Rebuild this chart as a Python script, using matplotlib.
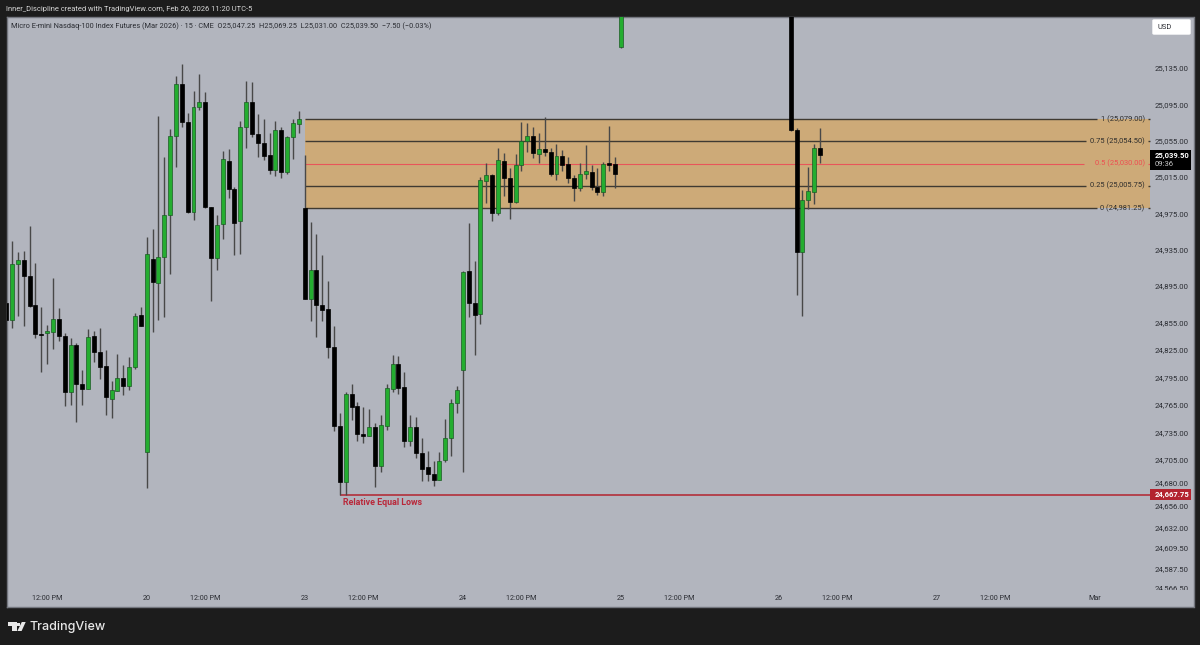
#!/usr/bin/python
import matplotlib
matplotlib.use("Agg")
import matplotlib.pyplot as plt
from matplotlib.patches import Rectangle, Polygon, FancyBboxPatch
from matplotlib.ticker import NullLocator, NullFormatter
from matplotlib.transforms import Bbox

plt.rcParams["font.family"] = ["Roboto", "DejaVu Sans"]

# bars of the 15 min chart that show on screen, the rest of the week is blank
bar_index = list(range(106)) + [134, 135, 136, 137, 138, 139]

opens = [
    24877, 24858.5, 24920, 24924.25, 24906.75, 24874.25, 24843, 24844.25, 24845, 24860,
    24841, 24780, 24831, 24788.25, 24783.5, 24841.25, 24823.75, 24808.5, 24772.5, 24781,
    24795.5, 24786.75, 24807.25, 24863.5, 24714.25, 24925.75, 24899, 24927.5, 24974, 25060.75,
    25117.75, 25076.5, 24977.25, 25092.5, 25098, 24982, 24926.5, 24963.25, 25033.5, 25002.5,
    24966.5, 25070.25, 25098, 25062.5, 25053, 25039.25, 25023, 25067, 25021.25, 25059,
    25074, 24981.25, 24881, 24912.75, 24874.25, 24870.5, 24829, 24742.5, 24681.25, 24777.5,
    24764.5, 24734, 24732, 24741.5, 24699.5, 24743, 24783.5, 24809.75, 24785, 24726.25,
    24741.5, 24713.75, 24697.5, 24690.5, 24683.5, 24705.75, 24729.5, 24767.5, 24804, 24911.5,
    24877, 24864.5, 25011, 25017.75, 24975.75, 25033, 25014.75, 24987.75, 25028.75, 25055,
    25060.5, 25041, 25046, 25043.25, 25019, 25039, 25029.75, 25014.5, 25002.75, 25019,
    25021.25, 25004.5, 24999, 25030.5, 25030, 25159,
    25220, 25067, 24933, 24989.5, 24999, 25047.25,
]
highs = [
    24877, 24945, 24933, 24934.5, 24961.75, 24921, 24872.75, 24852.5, 24904.5, 24871,
    24844.25, 24838.75, 24833.25, 24804, 24848.5, 24846.75, 24849.75, 24826, 24792.25, 24820.75,
    24809.5, 24817.5, 24866.25, 24872.25, 24949, 24958.5, 25082.5, 25037.75, 25067.75, 25127.25,
    25139.75, 25086, 25109.75, 25129.5, 25109.5, 24982.25, 24974, 25044, 25046.25, 25004.25,
    25077.25, 25121.75, 25120, 25084.5, 25078.75, 25063.5, 25077.25, 25070, 25060.5, 25078.75,
    25088.25, 25039.5, 24966, 24952.75, 24930, 24900.75, 24852.25, 24756.5, 24780.25, 24788.75,
    24769.25, 24763, 24761.25, 24745.5, 24754.75, 24788, 24820.5, 24819.5, 24801, 24754.75,
    24752.25, 24729.25, 24715.5, 24704.5, 24714.5, 24750.5, 24772, 24786.5, 24912.5, 24964.75,
    24923.5, 25015.5, 25031.25, 25018.75, 25047.5, 25041.5, 25025.5, 25040.5, 25075.5, 25074.5,
    25070, 25064, 25081, 25047, 25051.75, 25045, 25037.75, 25017, 25030.5, 25050.5,
    25028.75, 25025.75, 25032, 25071.75, 25037.75, 25215,
    25220, 25069, 25000.5, 25026.75, 25051.5, 25069.25,
]
lows = [
    24858.75, 24849.25, 24862.5, 24852.25, 24873, 24838.25, 24801.5, 24810.25, 24827, 24835.75,
    24764.5, 24765.75, 24747.5, 24765.75, 24783, 24813, 24794.25, 24754.75, 24751, 24781,
    24776.5, 24782, 24804.5, 24852, 24675.75, 24845.25, 24858.5, 24861.25, 24909, 25026.25,
    25070.5, 24975.75, 24967.5, 25089.75, 24981.5, 24879.5, 24912.75, 24947.25, 24991.75, 24929.75,
    24930.5, 25047.5, 25059, 25037, 25034.25, 25018.5, 25016, 25014.5, 25018.5, 25035.5,
    25064, 24881.5, 24857.75, 24839.5, 24857.75, 24816.75, 24737.5, 24667.75, 24667.75, 24749.25,
    24726.5, 24723.75, 24732, 24676, 24692.5, 24738.25, 24779.5, 24777, 24719.25, 24720.75,
    24708, 24682.75, 24683, 24677.25, 24683.5, 24703.5, 24709.75, 24757.25, 24692.5, 24861.25,
    24819.75, 24854.5, 24986.75, 24967.25, 24974, 24994.75, 24969.5, 24986.75, 25022, 25043.25,
    25036.75, 25031.25, 25038.5, 25016, 25012.25, 25022, 25008.5, 24988.5, 25000.25, 25013.25,
    25000.5, 24995.75, 24994.75, 25022, 25003.75, 25158,
    25066, 24885.5, 24862.5, 24980, 24986, 25031,
]
closes = [
    24858.75, 24920, 24924.25, 24906.25, 24873.5, 24843, 24841.5, 24846, 24860, 24840.5,
    24780, 24831.5, 24788, 24783.5, 24840.25, 24823.75, 24807.5, 24773.75, 24781.75, 24795,
    24786.75, 24807.5, 24863, 24852, 24930.5, 24899.75, 24927.5, 24973, 25060.75, 25118.5,
    25075.75, 24977.25, 25092.5, 25097.75, 24982.5, 24926.5, 24963, 25035, 25002.5, 24965,
    25070, 25098, 25063, 25052.5, 25039, 25022.5, 25066.75, 25021.25, 25059, 25074.5,
    25078.75, 24881.5, 24913.25, 24874.5, 24869.75, 24828.5, 24743, 24681.25, 24777.5, 24763.75,
    24734.25, 24732, 24742, 24699.5, 24743.5, 24784, 24809.75, 24784.5, 24726.5, 24741.25,
    24713, 24696.25, 24690, 24683.5, 24705, 24729.75, 24767.5, 24781.75, 24911, 24876.75,
    24864.25, 25012.25, 25017.5, 24975.75, 25033.75, 25014.5, 24987.75, 25028.75, 25055.25, 25060,
    25041.5, 25046, 25043, 25018.75, 25038.25, 25029, 25014.5, 25002.75, 25018.5, 25021.75,
    25004.25, 24999, 25030, 25029, 25019, 25215,
    25067, 24933, 24989.5, 25000, 25047, 25039.5,
]

price_ticks = [25135, 25095, 25055, 25015, 24975, 24935, 24895, 24855, 24825, 24795, 24765,
               24735, 24705, 24680, 24656, 24632, 24609.5, 24587.5, 24566.5]

time_ticks = [7, 24, 34, 51, 61, 78, 88, 105, 115, 132, 142, 159, 169, 186]
time_labels = ["12:00 PM", "20", "12:00 PM", "23", "12:00 PM", "24", "12:00 PM", "25",
               "12:00 PM", "26", "12:00 PM", "27", "12:00 PM", "Mar"]

fib_ratios = ["1", "0.75", "0.5", "0.25", "0"]
fib_prices = [25079.00, 25054.50, 25030.00, 25005.75, 24981.25]
fib_start = 51
fib_end = 195.3

equal_low = 24667.75
equal_low_start = 57
last_price = 25039.50

BG = "#b2b5be"
DARK = "#1c1c1c"
GREEN = "#24ad30"
ORANGE = "#cdaa78"
RED = "#b3232f"
TEXT = "#2a2c32"

W, H = 1200, 645
fig = plt.figure(figsize=(12, 6.45), dpi=100, facecolor=DARK)
left, right, top, bottom = 6.5, 1193.5, 16.5, 607
ax = fig.add_axes([left / W, 1 - bottom / H, (right - left) / W, (bottom - top) / H], facecolor=BG)
ax.set_yscale("log")
ax.set_xlim(0.06, 202.8)
ax.set_ylim(24546.3, 25192.7)
ax.set_xticks([])
ax.yaxis.set_major_locator(NullLocator())
ax.yaxis.set_minor_locator(NullLocator())
ax.yaxis.set_major_formatter(NullFormatter())
ax.yaxis.set_minor_formatter(NullFormatter())
for s in ax.spines.values():
    s.set_color("#74777f")
    s.set_linewidth(1)


def ax_x(px):
    return (px - left) / (right - left)


def bar_x(px):
    return (px - 6.146) / 5.854


price_tf = ax.get_yaxis_transform()
time_tf = ax.get_xaxis_transform()

# fib box, behind the candles
ax.add_patch(Rectangle((fib_start, fib_prices[-1]), fib_end - fib_start, fib_prices[0] - fib_prices[-1],
                       facecolor=ORANGE, edgecolor="none", zorder=1))
line_stops = [1097, 1086, 1084, 1086, 1097]
for ratio, price, stop in zip(fib_ratios, fib_prices, line_stops):
    col = "#e8555a" if ratio == "0.5" else "#3f3a32"
    lw = 0.8 if ratio == "0.5" else 1.0
    ax.hlines(price, fib_start, bar_x(stop), color=col, linewidth=lw, zorder=1.5)
    ax.hlines(price, bar_x(1147.5), fib_end, color=col, linewidth=lw, zorder=1.5)
    ax.text(bar_x(1144.5), price, "%s (%s)" % (ratio, format(price, ",.2f")), ha="right", va="center",
            fontsize=5.4, color="#ee4c50" if ratio == "0.5" else "#2b2b2b", zorder=2)

# relative equal lows
ax.hlines(equal_low, equal_low_start, fib_end, color=RED, linewidth=1.1, zorder=1.5)
ax.text(57.5, equal_low - 8, "Relative Equal Lows", color="#b9283a", fontsize=6.4, fontweight="bold",
        ha="left", va="center", zorder=4)

# candles
for i, o, h, l, c in zip(bar_index, opens, highs, lows, closes):
    up = c >= o
    ax.vlines(i, l, h, color="#484848", linewidth=1.0, zorder=2.5)
    ax.bar(i, abs(c - o), bottom=min(o, c), width=0.68, color=GREEN if up else "black",
           edgecolor="#1c5a25" if up else "black", linewidth=0.5, zorder=3)

# price scale
clip = Bbox([[0, H - 590], [W, H]])
for p in price_ticks:
    t = ax.text(ax_x(1155), p, format(p, ",.2f"), transform=price_tf, ha="left", va="center",
                fontsize=5.6, color=TEXT, zorder=5)
    t.set_clip_box(clip)
    t.set_clip_on(True)

# time scale
for i, lab in zip(time_ticks, time_labels):
    ax.text(i, 0.0152, lab, transform=time_tf, ha="center", va="center", fontsize=5.2, color=TEXT, zorder=5)

# price tags
ax.add_patch(Rectangle((ax_x(1150), equal_low - 6), ax_x(1191) - ax_x(1150), 12, transform=price_tf,
                       facecolor=RED, edgecolor="none", zorder=6))
ax.text(ax_x(1155), equal_low, format(equal_low, ",.2f"), transform=price_tf, ha="left", va="center",
        fontsize=5.5, color="white", fontweight="bold", zorder=7)
ax.add_patch(Rectangle((ax_x(1150), last_price - 16), ax_x(1191) - ax_x(1150), 22, transform=price_tf,
                       facecolor="black", edgecolor="none", zorder=6))
ax.text(ax_x(1155), last_price, format(last_price, ",.2f"), transform=price_tf, ha="left", va="center",
        fontsize=5.5, color="white", fontweight="bold", zorder=7)
ax.text(ax_x(1155), last_price - 10, "09:36", transform=price_tf, ha="left", va="center",
        fontsize=5.5, color="#c8c8c8", zorder=7)

# currency button
fig.add_artist(FancyBboxPatch((1153 / W, 1 - 34 / H), 37 / W, 14 / H, boxstyle="round,pad=0,rounding_size=0.001",
                              transform=fig.transFigure, facecolor="white", edgecolor="white", linewidth=1))
fig.text(1157 / W, 1 - 27.5 / H, "USD", fontsize=5.4, color=TEXT, va="center", ha="left")

# header lines
fig.text(6 / W, 1 - 9 / H, "Inner_Discipline created with TradingView.com, Feb 26, 2026 11:20 UTC-5",
         fontsize=5.45, color="#d8d8d8", va="center", ha="left")
fig.text(11 / W, 1 - 26 / H, "Micro E-mini Nasdaq-100 Index Futures (Mar 2026) \u00b7 15 \u00b7 CME  "
         "O25,047.25  H25,069.25  L25,031.00  C25,039.50  \u22127.50 (\u22120.03%)",
         fontsize=5.35, color=TEXT, va="center", ha="left")

# footer logo
def logo_pts(pts):
    return [(x / W, 1 - y / H) for x, y in pts]


LOGO = "#e8e8e8"
fig.add_artist(Polygon(logo_pts([(7.5, 622), (16.5, 622), (16.5, 631), (12.3, 631), (12.3, 626), (7.5, 626)]),
                       transform=fig.transFigure, facecolor=LOGO, edgecolor="none"))
fig.add_artist(Polygon(logo_pts([(21.8, 622), (25.7, 622), (21.6, 631), (17.4, 631)]),
                       transform=fig.transFigure, facecolor=LOGO, edgecolor="none"))
fig.add_artist(Polygon(logo_pts([(17, 622.5), (20.2, 622.5), (20.2, 625.7), (17, 625.7)]),
                       transform=fig.transFigure, facecolor=LOGO, edgecolor="none"))
fig.text(30 / W, 1 - 627 / H, "TradingView", fontsize=9.0, fontweight="medium", color=LOGO, va="center", ha="left",
         family=["Inter", "DejaVu Sans"])

fig.savefig("out.png", dpi=100, facecolor=DARK)
